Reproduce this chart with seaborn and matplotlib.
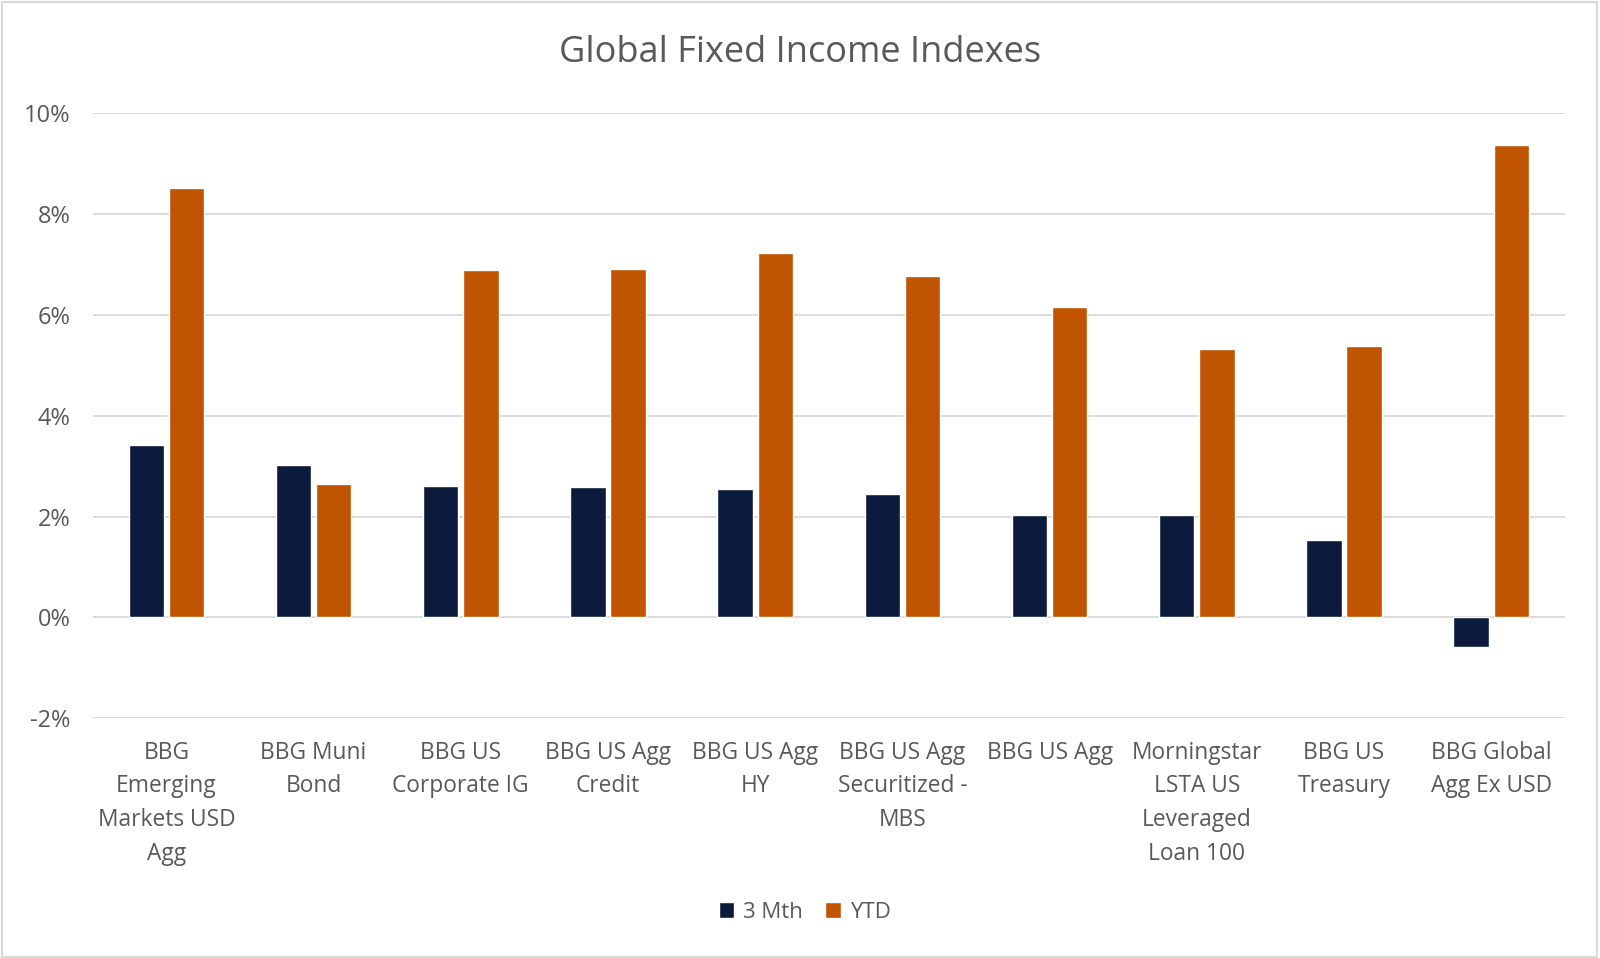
import matplotlib
matplotlib.use("Agg")
import matplotlib.pyplot as plt
import seaborn as sns
import pandas as pd
from matplotlib.patches import Rectangle
from matplotlib.ticker import FuncFormatter

categories = [
    "BBG Emerging Markets USD Agg",
    "BBG Muni Bond",
    "BBG US Corporate IG",
    "BBG US Agg Credit",
    "BBG US Agg HY",
    "BBG US Agg Securitized - MBS",
    "BBG US Agg",
    "Morningstar LSTA US Leveraged Loan 100",
    "BBG US Treasury",
    "BBG Global Agg Ex USD",
]
tick_labels = [
    "BBG\nEmerging\nMarkets USD\nAgg",
    "BBG Muni\nBond",
    "BBG US\nCorporate IG",
    "BBG US Agg\nCredit",
    "BBG US Agg\nHY",
    "BBG US Agg\nSecuritized -\nMBS",
    "BBG US Agg",
    "Morningstar\nLSTA US\nLeveraged\nLoan 100",
    "BBG US\nTreasury",
    "BBG Global\nAgg Ex USD",
]
three_mth = [3.42, 3.02, 2.61, 2.59, 2.55, 2.45, 2.04, 2.04, 1.53, -0.59]
ytd = [8.52, 2.65, 6.90, 6.92, 7.23, 6.78, 6.15, 5.32, 5.38, 9.37]
series_names = ["3 Mth", "YTD"]
y_ticks = [-2, 0, 2, 4, 6, 8, 10]

df = pd.DataFrame({
    "Index": categories * 2,
    "Series": [series_names[0]] * len(categories) + [series_names[1]] * len(categories),
    "Value": three_mth + ytd,
})

sns.set_theme(style="white")
plt.rcParams["font.family"] = ["Open Sans", "DejaVu Sans"]
text_color = "#595959"

fig = plt.figure(figsize=(16, 9.58), dpi=100)
ax = fig.add_axes([0.058, 0.2502, 0.920, 0.6315])

palette = {"3 Mth": "#0C1A3E", "YTD": "#C05400"}
sns.barplot(data=df, x="Index", y="Value", hue="Series", order=categories,
            hue_order=series_names, palette=palette, width=0.545, gap=0.12,
            saturation=1, ax=ax, legend=True)

ax.set_ylim(-2, 10)
ax.set_yticks(y_ticks)
ax.yaxis.set_major_formatter(FuncFormatter(lambda v, p: f"{int(round(v))}%"))
ax.set_xlim(-0.5, len(categories) - 0.5)
ax.set_xticks(range(len(categories)))
ax.set_xticklabels(tick_labels, fontsize=16.4, color=text_color, linespacing=1.54, va="top")
ax.tick_params(axis="x", length=0, pad=16)
ax.tick_params(axis="y", length=0, pad=16, labelsize=17, labelcolor=text_color)
ax.grid(axis="y", color="#D9D9D9", linewidth=1.3)
ax.set_axisbelow(True)
for s in ax.spines.values():
    s.set_visible(False)
ax.set_xlabel("")
ax.set_ylabel("")

fig.text(0.5, 0.945, "Global Fixed Income Indexes", ha="center", va="center",
         fontsize=26, color=text_color)

handles, labels = ax.get_legend_handles_labels()
ax.legend_.remove()
fig.legend(handles, labels, loc="center", bbox_to_anchor=(0.503, 0.048), ncol=2,
           frameon=False, fontsize=16, labelcolor=text_color, handlelength=0.7,
           handleheight=0.7, handletextpad=0.4, columnspacing=1.0)

fig.patches.append(Rectangle((0.001, 0.001), 0.997, 0.997, transform=fig.transFigure,
                             fill=False, edgecolor="#D9D9D9", linewidth=1.5))

fig.savefig("out.png", dpi=100)
